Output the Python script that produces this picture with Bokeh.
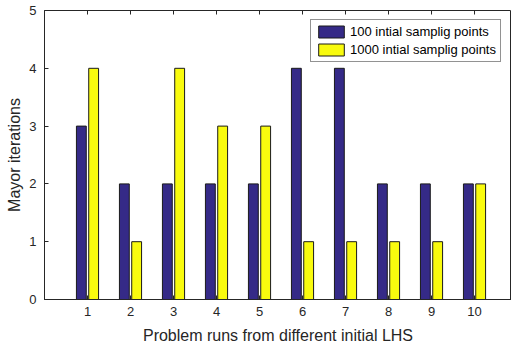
import math
from bokeh.plotting import figure
from bokeh.models import ColumnDataSource, FixedTicker, Range1d, Legend, LegendItem
from bokeh.transform import dodge
from bokeh.embed import file_html
from bokeh.resources import INLINE

runs = [1, 2, 3, 4, 5, 6, 7, 8, 9, 10]
iters_100 = [3, 2, 2, 2, 2, 4, 4, 2, 2, 2]
iters_1000 = [4, 1, 4, 3, 3, 1, 1, 1, 1, 2]
series_names = ["100 intial samplig points", "1000 intial samplig points"]
y_ticks = [0, 1, 2, 3, 4, 5]

src = ColumnDataSource(dict(run=runs, a=iters_100, b=iters_1000))
top_src = ColumnDataSource(dict(run=runs, top=[y_ticks[-1]] * len(runs)))

FONT = "Liberation Sans"
TXT = "#262626"

p = figure(width=511, height=351, output_backend="svg", toolbar_location=None,
           x_range=Range1d(0, 10.86), y_range=Range1d(0, 5),
           min_border_left=44, min_border_right=0, min_border_top=10, min_border_bottom=52)
p.background_fill_color = "white"
p.border_fill_color = "white"
p.outline_line_color = TXT
p.outline_line_width = 1
p.xgrid.visible = False
p.ygrid.visible = False

bw = 0.229
r1 = p.vbar(x=dodge("run", -0.143, range=p.x_range), top="a", width=bw, source=src,
            fill_color="#352A87", line_color="#1a1a1a", line_width=1)
r2 = p.vbar(x=dodge("run", 0.143, range=p.x_range), top="b", width=bw, source=src,
            fill_color="#F9FB0E", line_color="#1a1a1a", line_width=1)

# mirrored inward ticks on the top edge of the box
p.scatter(x="run", y="top", source=top_src, marker="dash", angle=math.pi / 2,
          size=8, line_color=TXT, line_width=1)

for ax in (p.xaxis[0], p.yaxis[0]):
    ax.major_tick_in = 4
    ax.major_tick_out = 0
    ax.minor_tick_line_color = None
    ax.axis_line_color = TXT
    ax.major_tick_line_color = TXT
    ax.major_label_text_font = FONT
    ax.major_label_text_font_size = "13px"
    ax.major_label_text_color = TXT
    ax.axis_label_text_font = FONT
    ax.axis_label_text_font_size = "16px"
    ax.axis_label_text_font_style = "normal"
    ax.axis_label_text_color = TXT

p.xaxis[0].ticker = FixedTicker(ticks=runs)
p.yaxis[0].ticker = FixedTicker(ticks=y_ticks)
p.xaxis[0].axis_label = "Problem runs from different initial LHS"
p.yaxis[0].axis_label = "Mayor iterations"
p.xaxis[0].major_label_standoff = 7
p.yaxis[0].major_label_standoff = 8
p.xaxis[0].axis_label_standoff = 8
p.yaxis[0].axis_label_standoff = 3

legend = Legend(items=[LegendItem(label=series_names[0], renderers=[r1]),
                       LegendItem(label=series_names[1], renderers=[r2])],
                location=(266, 237), padding=4, spacing=3,
                glyph_width=32, glyph_height=15, label_standoff=3,
                label_text_font=FONT, label_text_font_size="13px", label_text_color="black",
                label_height=15,
                border_line_color=TXT, border_line_width=1, background_fill_alpha=1)
p.add_layout(legend)

open("out.html", "w").write(file_html(p, INLINE))
